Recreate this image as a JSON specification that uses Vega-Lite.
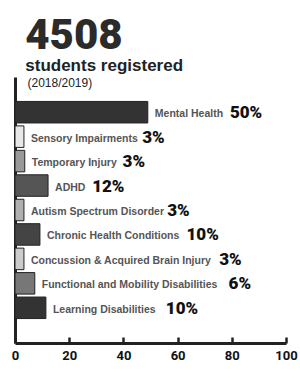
{
  "$schema": "https://vega.github.io/schema/vega-lite/v6.json",
  "width": 271,
  "height": 266,
  "autosize": {"type": "none"},
  "padding": {"left": 15, "top": 77, "right": 14, "bottom": 35},
  "background": "white",
  "config": {"view": {"stroke": null}},
  "title": {
    "text": "4508",
    "subtitle": "students registered",
    "anchor": "start",
    "dx": 14,
    "offset": 1,
    "font": "Roboto",
    "fontSize": 42,
    "fontWeight": 900,
    "color": "#2b2b2b",
    "subtitleFont": "Liberation Sans",
    "subtitleFontSize": 17,
    "subtitleFontWeight": "bold",
    "subtitleColor": "#222222",
    "subtitlePadding": 0
  },
  "data": {
    "values": [
      {"name": "Mental Health", "value": 49, "pct": "50%"},
      {"name": "Sensory Impairments", "value": 3.3, "pct": "3%"},
      {"name": "Temporary Injury", "value": 3.6, "pct": "3%"},
      {"name": "ADHD", "value": 12.2, "pct": "12%"},
      {"name": "Autism Spectrum Disorder", "value": 3.3, "pct": "3%"},
      {"name": "Chronic Health Conditions", "value": 9.2, "pct": "10%"},
      {"name": "Concussion & Acquired Brain Injury", "value": 3.3, "pct": "3%"},
      {"name": "Functional and Mobility Disabilities", "value": 7.3, "pct": "6%"},
      {"name": "Learning Disabilities", "value": 11.4, "pct": "10%"}
    ]
  },
  "transform": [
    {"calculate": "length(replace(datum.name, regexp('[^ijltfrI ]', 'g'), ''))", "as": "nw"},
    {"calculate": "length(replace(datum.name, regexp('[^A-HJ-Zmw&]', 'g'), ''))", "as": "ww"},
    {"calculate": "datum.value + (13 + 10.5 * (0.3 * datum.nw + 0.74 * datum.ww + 0.6 * (length(datum.name) - datum.nw - datum.ww))) / 2.71", "as": "px"}
  ],
  "encoding": {
    "y": {
      "field": "name",
      "type": "nominal",
      "sort": null,
      "scale": {"paddingInner": 0.12, "paddingOuter": 1.17},
      "axis": {
        "title": "(2018/2019)",
        "labels": false,
        "ticks": false,
        "grid": false,
        "domain": true,
        "domainWidth": 3,
        "domainColor": "#222222",
        "titleAngle": 0,
        "titleAlign": "left",
        "titleBaseline": "alphabetic",
        "titleX": 12,
        "titleY": 9,
        "titleFont": "Liberation Sans",
        "titleFontSize": 12,
        "titleFontWeight": "normal",
        "titleColor": "#222222"
      }
    }
  },
  "layer": [
    {
      "mark": {"type": "bar", "stroke": "#222222", "strokeWidth": 1},
      "encoding": {
        "x": {
          "field": "value",
          "type": "quantitative",
          "scale": {"domain": [0, 100], "nice": false},
          "axis": {
            "values": [0, 20, 40, 60, 80, 100],
            "title": null,
            "grid": false,
            "domainWidth": 3,
            "domainColor": "#222222",
            "tickSize": -6,
            "tickWidth": 2.5,
            "tickColor": "#222222",
            "labelFont": "Roboto",
            "labelFontWeight": "bold",
            "labelFontSize": 13,
            "labelColor": "#111111",
            "labelPadding": 12,
            "labelFlush": false
          }
        },
        "color": {
          "field": "name",
          "type": "nominal",
          "legend": null,
          "scale": {
            "domain": ["Mental Health", "Sensory Impairments", "Temporary Injury", "ADHD", "Autism Spectrum Disorder", "Chronic Health Conditions", "Concussion & Acquired Brain Injury", "Functional and Mobility Disabilities", "Learning Disabilities"],
            "range": ["#333333", "#e8e8e8", "#999999", "#555555", "#b0b0b0", "#444444", "#cccccc", "#777777", "#333333"]
          }
        }
      }
    },
    {
      "mark": {"type": "text", "align": "left", "baseline": "middle", "dx": 7, "dy": 2, "font": "Liberation Sans", "fontSize": 10.5, "fontWeight": "bold", "color": "#555555"},
      "encoding": {
        "x": {"field": "value", "type": "quantitative"},
        "text": {"field": "name"}
      }
    },
    {
      "mark": {"type": "text", "align": "left", "baseline": "middle", "dy": 1, "font": "Roboto", "fontSize": 17, "fontWeight": 900, "color": "#111111"},
      "encoding": {
        "x": {"field": "px", "type": "quantitative"},
        "text": {"field": "pct"}
      }
    }
  ]
}
